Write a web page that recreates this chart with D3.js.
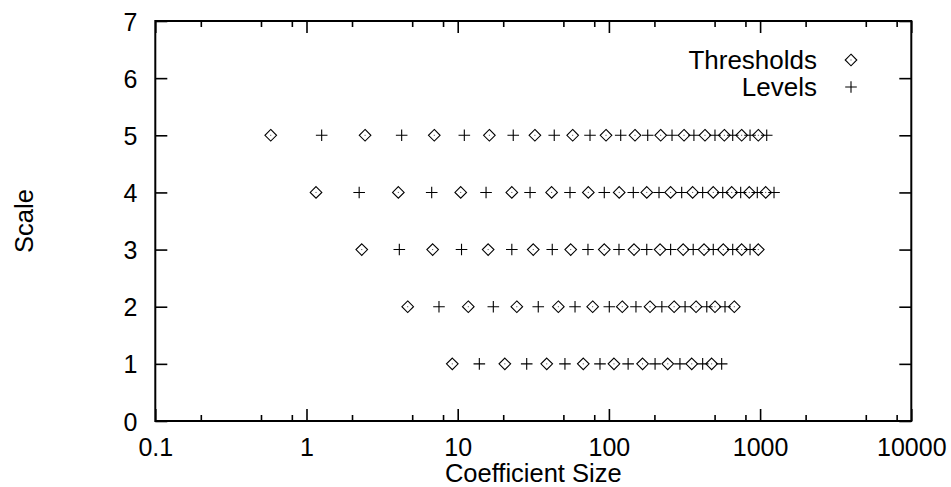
<!DOCTYPE html>
<html>
<head>
<meta charset="utf-8">
<script src="https://cdn.jsdelivr.net/npm/d3@7"></script>
<style>
  html, body { margin: 0; padding: 0; background: #fff; }
  svg { display: block; font-family: "Liberation Sans", Arial, Helvetica, sans-serif; }
</style>
</head>
<body>
<svg id="chart" width="951" height="487"></svg>
<script>
// Quantization thresholds and reconstruction levels per scale
const scales = [1, 2, 3, 4, 5];
const thresholds1 = [9.21, 20.5, 38.8, 67.7, 108, 167, 245, 353, 478];
const levels1     = [13.9, 28.6, 51.2, 87.3, 134, 202, 295, 417, 557];
const thresholds2 = [4.67, 11.75, 24.6, 46.3, 78.1, 122.6, 187, 270, 377, 503, 675];
const levels2     = [7.52, 17.2, 34.1, 59.7, 100.6, 151, 224, 319, 444, 586];
const thresholds3 = [2.32, 6.83, 15.9, 31.6, 55.9, 93.2, 146.6, 218, 310, 426, 571, 755, 973];
const levels3     = [4.11, 10.6, 22.8, 42.2, 72.7, 116.6, 178, 256, 361, 490, 659, 858];
const thresholds4 = [1.156, 4.05, 10.47, 22.8, 41.8, 73.1, 117, 178, 256, 358, 490, 649, 848, 1089];
const levels4     = [2.23, 6.73, 15.4, 30.1, 55.3, 93.2, 145, 214.5, 303, 417, 566, 744, 958, 1236];
const thresholds5 = [0.58, 2.44, 7.0, 16.2, 32.4, 57.6, 95.7, 148.8, 220, 314, 432, 580, 755, 973];
const levels5     = [1.26, 4.26, 11.06, 23.3, 43.5, 75.0, 119.7, 180.6, 261.5, 365, 503, 659, 858, 1106];

const xTickValues = [0.1, 1, 10, 100, 1000, 10000];
const xTickLabels = ["0.1", "1", "10", "100", "1000", "10000"];
const yTickValues = [0, 1, 2, 3, 4, 5, 6, 7];
const legendLabels = ["Thresholds", "Levels"];

const thresholdRows = [thresholds1, thresholds2, thresholds3, thresholds4, thresholds5];
const levelRows = [levels1, levels2, levels3, levels4, levels5];

const svg = d3.select("#chart");
const plotLeft = 155.3, plotRight = 911.3, plotTop = 21, plotBottom = 421;
const fontSize = 25;

const x = d3.scaleLog().domain([0.1, 10000]).range([plotLeft, plotRight]);
const y = d3.scaleLinear().domain([0, 7]).range([plotBottom, plotTop]);

// minor ticks at 2, 5, 8 within each decade
const minorTicks = [];
[0.1, 1, 10, 100, 1000].forEach(d => [2, 5, 8].forEach(m => minorTicks.push(+(d * m).toPrecision(3))));

function styleAxis(g) {
  g.select(".domain").remove();
  g.selectAll(".tick line").attr("stroke", "#000").attr("stroke-width", 1.6);
  g.selectAll(".tick text").attr("fill", "#000").attr("font-size", fontSize)
    .attr("font-family", "Liberation Sans, Arial, sans-serif");
}

// bottom axis: major ticks with labels
svg.append("g").attr("transform", `translate(0,${plotBottom})`)
  .call(d3.axisBottom(x).tickValues(xTickValues).tickSizeInner(-12).tickSizeOuter(0)
    .tickFormat((d, i) => xTickLabels[i]))
  .call(styleAxis)
  .call(g => g.selectAll(".tick text").attr("dy", null).attr("y", 35));

// bottom minor ticks
svg.append("g").attr("transform", `translate(0,${plotBottom})`)
  .call(d3.axisBottom(x).tickValues(minorTicks).tickSizeInner(-6).tickSizeOuter(0).tickFormat(""))
  .call(styleAxis);

// top mirror ticks
svg.append("g").attr("transform", `translate(0,${plotTop})`)
  .call(d3.axisTop(x).tickValues(xTickValues).tickSizeInner(-12).tickSizeOuter(0).tickFormat(""))
  .call(styleAxis);
svg.append("g").attr("transform", `translate(0,${plotTop})`)
  .call(d3.axisTop(x).tickValues(minorTicks).tickSizeInner(-6).tickSizeOuter(0).tickFormat(""))
  .call(styleAxis);

// left axis
svg.append("g").attr("transform", `translate(${plotLeft},0)`)
  .call(d3.axisLeft(y).tickValues(yTickValues).tickSizeInner(-12).tickSizeOuter(0)
    .tickFormat(d3.format("d")))
  .call(styleAxis)
  .call(g => g.selectAll(".tick text").attr("x", -18).attr("dy", "0.36em"));

// right mirror ticks
svg.append("g").attr("transform", `translate(${plotRight},0)`)
  .call(d3.axisRight(y).tickValues(yTickValues).tickSizeInner(-12).tickSizeOuter(0).tickFormat(""))
  .call(styleAxis);

// plot frame
svg.append("rect")
  .attr("x", plotLeft).attr("y", plotTop)
  .attr("width", plotRight - plotLeft).attr("height", plotBottom - plotTop)
  .attr("fill", "none").attr("stroke", "#000").attr("stroke-width", 2);

// axis titles
svg.append("text")
  .attr("x", (plotLeft + plotRight) / 2).attr("y", 482)
  .attr("text-anchor", "middle").attr("font-size", 25.5).attr("fill", "#000")
  .text("Coefficient Size");

svg.append("text")
  .attr("transform", `translate(33,${(plotTop + plotBottom) / 2}) rotate(-90)`)
  .attr("text-anchor", "middle").attr("font-size", 25.5).attr("fill", "#000")
  .text("Scale");

// point symbols
const half = 5.8;
function diamondPath(cx, cy) {
  const p = d3.path();
  p.moveTo(cx, cy - half); p.lineTo(cx + half, cy); p.lineTo(cx, cy + half);
  p.lineTo(cx - half, cy); p.closePath();
  return p.toString();
}
function plusPath(cx, cy) {
  const p = d3.path();
  p.moveTo(cx - half, cy); p.lineTo(cx + half, cy);
  p.moveTo(cx, cy - half); p.lineTo(cx, cy + half);
  return p.toString();
}

const thrPoints = [], lvlPoints = [];
scales.forEach((s, i) => {
  thresholdRows[i].forEach(v => thrPoints.push({ v, s }));
  levelRows[i].forEach(v => lvlPoints.push({ v, s }));
});

const marks = svg.append("g");
marks.selectAll("path.thr").data(thrPoints).join("path")
  .attr("class", "thr")
  .attr("d", d => diamondPath(x(d.v), y(d.s)))
  .attr("fill", "none").attr("stroke", "#000").attr("stroke-width", 1.1);
marks.selectAll("rect.ctr").data(thrPoints).join("rect")
  .attr("class", "ctr")
  .attr("x", d => x(d.v) - 0.5).attr("y", d => y(d.s) - 0.5)
  .attr("width", 1).attr("height", 1).attr("fill", "#444");
marks.selectAll("path.lvl").data(lvlPoints).join("path")
  .attr("class", "lvl")
  .attr("d", d => plusPath(x(d.v), y(d.s)))
  .attr("fill", "none").attr("stroke", "#000").attr("stroke-width", 1.1);

// legend
const legendTextX = 817, legendSymX = 851;
const legendY = [60, 87];
const legend = svg.append("g");
legendLabels.forEach((lab, i) => {
  legend.append("text")
    .attr("x", legendTextX).attr("y", legendY[i]).attr("dy", "0.36em")
    .attr("text-anchor", "end").attr("font-size", 26).attr("fill", "#000")
    .text(lab);
  legend.append("path")
    .attr("d", i === 0 ? diamondPath(legendSymX, legendY[i]) : plusPath(legendSymX, legendY[i]))
    .attr("fill", "none").attr("stroke", "#000").attr("stroke-width", 1.1);
  if (i === 0) {
    legend.append("rect").attr("x", legendSymX - 0.5).attr("y", legendY[i] - 0.5)
      .attr("width", 1).attr("height", 1).attr("fill", "#444");
  }
});
</script>
</body>
</html>
